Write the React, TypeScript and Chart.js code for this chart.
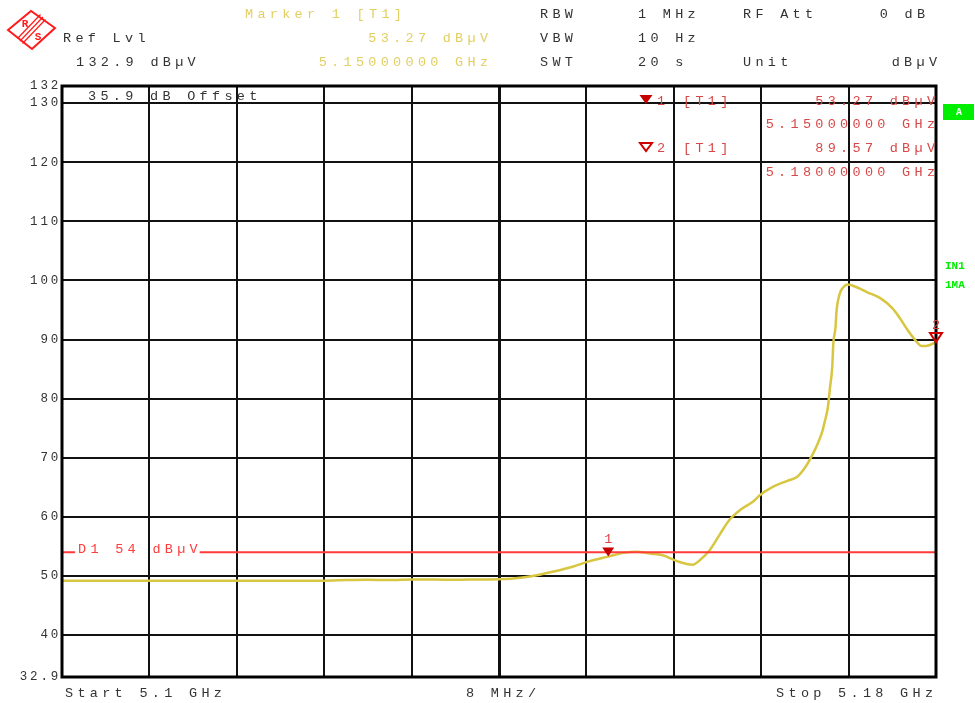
import React, { useEffect, useRef } from 'react';
import { Chart, registerables } from 'chart.js';

Chart.register(...registerables);

// ---- data (frequency in MHz, level in dBµV) ----
const freqMHz = [
  5100.0, 5104.0, 5108.0, 5112.0, 5116.0, 5120.0, 5124.0, 5126.0, 5128.0, 5130.0,
  5132.0, 5134.0, 5136.0, 5138.0, 5140.0, 5141.3, 5143.1, 5144.9, 5146.8, 5148.3,
  5150.0, 5151.4, 5152.6, 5153.8, 5155.0, 5156.3, 5157.7, 5158.4, 5159.3, 5160.2,
  5161.1, 5162.1, 5163.2, 5163.9, 5165.1, 5166.4, 5167.3, 5168.0, 5168.6, 5169.2,
  5169.6, 5169.8, 5170.1, 5170.3, 5170.5, 5170.6, 5170.8, 5170.9, 5171.2, 5171.5,
  5171.9, 5172.8, 5173.7, 5174.9, 5176.0, 5176.7, 5177.4, 5178.1, 5178.7, 5179.3,
  5180.0,
];
const levelDbuV = [
  49.2, 49.2, 49.2, 49.2, 49.2, 49.2, 49.2, 49.3, 49.35, 49.3,
  49.4, 49.4, 49.35, 49.4, 49.45, 49.55, 50.0, 50.7, 51.6, 52.5,
  53.27, 53.9, 54.1, 53.8, 53.5, 52.5, 51.9, 52.7, 54.4, 57.0,
  59.5, 61.2, 62.5, 63.7, 65.1, 66.1, 66.8, 68.3, 70.2, 72.5,
  74.5, 76.0, 78.5, 81.9, 85.3, 89.3, 92.0, 94.9, 97.8, 98.8,
  99.3, 98.8, 98.0, 97.0, 95.3, 93.6, 91.6, 89.9, 88.9, 89.0,
  89.57,
];

const yTickValues = [32.9, 40, 50, 60, 70, 80, 90, 100, 110, 120, 130, 132.9];
const yTickLabels = ['32.9', '40', '50', '60', '70', '80', '90', '100', '110', '120', '130', '132'];
const xTickValues = [5100, 5108, 5116, 5124, 5132, 5140, 5148, 5156, 5164, 5172, 5180];

// display line D1 (with a gap where its label sits)
const d1Freq = [5100, 5101.2, 5106, 5112.6, 5180];
const d1Level = [54, 54, null, 54, 54];

const markerFreq = [5150, 5180];
const markerLevel = [53.27, 89.57];
const markerNames = ['1', '2'];

const TRACE = '#d8c640';
const YELLOW_TXT = '#e2cf62';
const RED_LINE = '#ff3b3b';
const RED_TXT = '#d84848';
const DARK_RED = '#c40000';
const TXT = '#333333';
const GREEN = '#00ee00';
const MONO = '"Liberation Mono", "DejaVu Sans Mono", monospace';
const PITCH = 12.4;
const FS = 13.5;

function spaced(ctx: CanvasRenderingContext2D, text: string, x: number, y: number,
  color: string, align: 'left' | 'right' = 'left', pitch = PITCH, size = FS) {
  ctx.save();
  ctx.font = `${size}px ${MONO}`;
  const adv = size * 0.6;
  (ctx as any).letterSpacing = `${pitch - adv}px`;
  ctx.fillStyle = color;
  ctx.textAlign = 'left';
  ctx.textBaseline = 'middle';
  const extent = (text.length - 1) * pitch + adv;
  const left = align === 'left' ? x : x - extent;
  ctx.fillText(text, left, y);
  ctx.restore();
}

function tri(ctx: CanvasRenderingContext2D, cx: number, tipY: number, filled: boolean, color: string, w = 12, h = 8) {
  ctx.save();
  ctx.beginPath();
  ctx.moveTo(cx - w / 2, tipY - h);
  ctx.lineTo(cx + w / 2, tipY - h);
  ctx.lineTo(cx, tipY);
  ctx.closePath();
  if (filled) {
    ctx.fillStyle = color;
    ctx.fill();
  } else {
    ctx.strokeStyle = color;
    ctx.lineWidth = 2;
    ctx.stroke();
  }
  ctx.restore();
}

const decorPlugin = {
  id: 'decor',
  beforeDraw(chart: any) {
    const ctx = chart.ctx as CanvasRenderingContext2D;
    ctx.save();
    ctx.fillStyle = '#ffffff';
    ctx.fillRect(0, 0, chart.width, chart.height);
    ctx.restore();
    (ctx as any).letterSpacing = '2.8px';
  },
  afterDatasetsDraw(chart: any) {
    const ctx = chart.ctx as CanvasRenderingContext2D;
    const xs = chart.scales.x;
    const ys = chart.scales.y;
    const a = chart.chartArea;
    // outer frame
    ctx.save();
    ctx.strokeStyle = '#000';
    ctx.lineWidth = 3;
    ctx.strokeRect(a.left, a.top, a.right - a.left, a.bottom - a.top);
    ctx.restore();

    // D1 label
    const d1y = ys.getPixelForValue(54);
    spaced(ctx, 'D1 54 dBµV', a.left + 16, d1y - 3, RED_LINE);

    // markers on trace
    markerFreq.forEach((f, i) => {
      const px = xs.getPixelForValue(f);
      const py = ys.getPixelForValue(markerLevel[i]);
      tri(ctx, px, py, i === 0, i === 0 ? DARK_RED : '#d00000', 12, 9);
      spaced(ctx, markerNames[i], px - 4, py - 17, i === 0 ? '#e04848' : '#d04040');
    });

    // offset note
    spaced(ctx, '35.9 dB Offset', 88, 96, TXT);

    // marker table
    tri(ctx, 646, 104, true, DARK_RED, 13, 9);
    spaced(ctx, '1', 657, 101, RED_TXT);
    spaced(ctx, '[T1]', 683, 101, RED_TXT);
    spaced(ctx, '53.27 dBµV', 935, 101, RED_TXT, 'right');
    spaced(ctx, '5.15000000 GHz', 935, 124, RED_TXT, 'right');
    tri(ctx, 646, 151, false, '#d00000', 12, 8);
    spaced(ctx, '2', 657, 148, RED_TXT);
    spaced(ctx, '[T1]', 683, 148, RED_TXT);
    spaced(ctx, '89.57 dBµV', 935, 148, RED_TXT, 'right');
    spaced(ctx, '5.18000000 GHz', 935, 172, RED_TXT, 'right');
  },
  afterDraw(chart: any) {
    const ctx = chart.ctx as CanvasRenderingContext2D;
    // header
    spaced(ctx, 'Marker 1 [T1]', 245, 14, YELLOW_TXT);
    spaced(ctx, 'RBW', 540, 14, TXT);
    spaced(ctx, '1 MHz', 638, 14, TXT);
    spaced(ctx, 'RF Att', 743, 14, TXT);
    spaced(ctx, '0 dB', 925, 14, TXT, 'right');

    spaced(ctx, 'Ref Lvl', 63, 38, TXT);
    spaced(ctx, '53.27 dBµV', 488, 38, YELLOW_TXT, 'right');
    spaced(ctx, 'VBW', 540, 38, TXT);
    spaced(ctx, '10 Hz', 638, 38, TXT);

    spaced(ctx, '132.9 dBµV', 76, 62, TXT);
    spaced(ctx, '5.15000000 GHz', 488, 62, YELLOW_TXT, 'right');
    spaced(ctx, 'SWT', 540, 62, TXT);
    spaced(ctx, '20 s', 638, 62, TXT);
    spaced(ctx, 'Unit', 743, 62, TXT);
    spaced(ctx, 'dBµV', 937, 62, TXT, 'right');

    // bottom
    spaced(ctx, 'Start 5.1 GHz', 65, 693, TXT);
    spaced(ctx, '8 MHz/', 466, 693, TXT);
    spaced(ctx, 'Stop 5.18 GHz', 933, 693, TXT, 'right');

    // green side indicators
    ctx.save();
    ctx.fillStyle = GREEN;
    ctx.fillRect(943, 104, 31, 16);
    ctx.fillStyle = '#ffffff';
    ctx.font = `bold 10px ${MONO}`;
    (ctx as any).letterSpacing = '0px';
    ctx.textAlign = 'center';
    ctx.textBaseline = 'middle';
    ctx.fillText('A', 959, 112);
    ctx.fillStyle = GREEN;
    ctx.textAlign = 'left';
    ctx.font = `bold 11px ${MONO}`;
    ctx.fillText('IN1', 945, 266);
    ctx.fillText('1MA', 945, 285);
    ctx.restore();

    // R&S logo
    ctx.save();
    (ctx as any).letterSpacing = '0px';
    ctx.strokeStyle = '#ff1a1a';
    ctx.fillStyle = '#ff1a1a';
    ctx.lineWidth = 2;
    ctx.beginPath();
    ctx.moveTo(8, 30);
    ctx.lineTo(31, 11);
    ctx.lineTo(55, 28);
    ctx.lineTo(32, 49);
    ctx.closePath();
    ctx.stroke();
    ctx.lineWidth = 1.2;
    for (let k = -1; k <= 1; k++) {
      ctx.beginPath();
      ctx.moveTo(20 + k * 2.5, 41 + k * 2.5);
      ctx.lineTo(43 + k * 2.5, 17 + k * 2.5);
      ctx.stroke();
    }
    ctx.font = `bold 11px ${MONO}`;
    ctx.textAlign = 'center';
    ctx.textBaseline = 'middle';
    ctx.fillText('R', 25, 24);
    ctx.fillText('S', 38, 37);
    ctx.restore();
  },
};

export default function App() {
  const ref = useRef<HTMLCanvasElement>(null);
  useEffect(() => {
    if (!ref.current) return;
    const chart = new Chart(ref.current, {
      type: 'line',
      data: {
        datasets: [
          {
            label: 'D1',
            data: d1Freq.map((f, i) => ({ x: f, y: d1Level[i] as any })),
            borderColor: RED_LINE,
            borderWidth: 2,
            pointRadius: 0,
            spanGaps: false,
          },
          {
            label: 'Trace 1',
            data: freqMHz.map((f, i) => ({ x: f, y: levelDbuV[i] })),
            borderColor: TRACE,
            borderWidth: 2.5,
            pointRadius: 0,
            cubicInterpolationMode: 'monotone',
          },
        ],
      },
      options: {
        responsive: false,
        animation: false,
        devicePixelRatio: 1,
        layout: { padding: { left: 0, top: 86, right: 39, bottom: 26 } },
        plugins: { legend: { display: false }, tooltip: { enabled: false } },
        scales: {
          x: {
            type: 'linear',
            min: 5100,
            max: 5180,
            afterBuildTicks: (s: any) => { s.ticks = xTickValues.map((v) => ({ value: v })); },
            afterFit: (s: any) => { s.height = 0; },
            ticks: { display: false },
            grid: {
              color: '#111',
              lineWidth: (c: any) => (c.index === 5 ? 3 : 2),
              drawTicks: false,
            },
            border: { display: false },
          },
          y: {
            type: 'linear',
            min: 32.9,
            max: 132.9,
            afterBuildTicks: (s: any) => { s.ticks = yTickValues.map((v) => ({ value: v })); },
            afterFit: (s: any) => { s.width = 62; },
            ticks: {
              padding: 1,
              color: TXT,
              font: { family: MONO, size: 12.5 },
              callback: (v: any) => yTickLabels[yTickValues.indexOf(Number(v))] ?? '',
            },
            grid: { color: '#111', lineWidth: 2, drawTicks: false },
            border: { display: false },
          },
        },
      } as any,
      plugins: [decorPlugin],
    });
    return () => chart.destroy();
  }, []);
  return (
    <div style={{ position: 'absolute', left: 0, top: 0, width: 975, height: 703, background: '#fff' }}>
      <canvas ref={ref} width={975} height={703} style={{ display: 'block' }} />
    </div>
  );
}
